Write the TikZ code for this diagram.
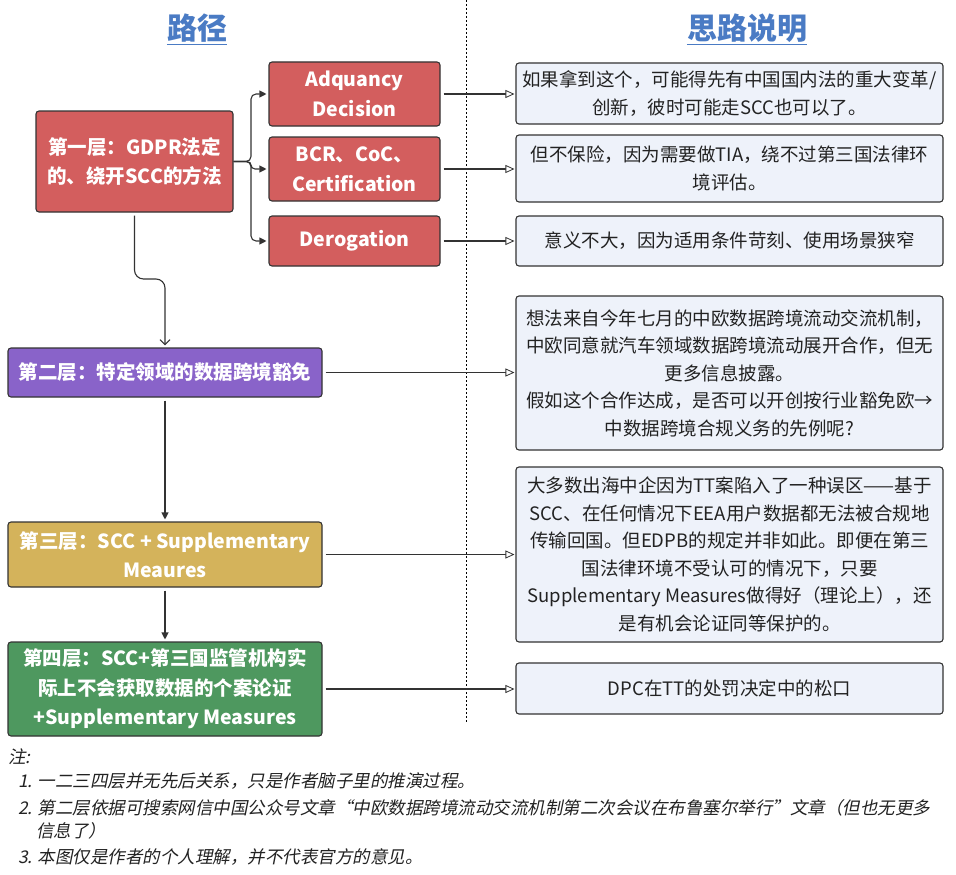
\documentclass[tikz,border=0pt]{standalone}
\usepackage{fontspec}
\setmainfont{Noto Sans CJK SC}
\newfontfamily\noteit{Noto Sans CJK SC}[FakeSlant=0.2]
\usetikzlibrary{arrows.meta}
\definecolor{cred}{HTML}{D35E5E}
\definecolor{cpurple}{HTML}{8963C9}
\definecolor{cyellow}{HTML}{D4B35B}
\definecolor{cgreen}{HTML}{4E985F}
\definecolor{cnote}{HTML}{EEF2FA}
\definecolor{ctitle}{HTML}{4A7BC4}
\definecolor{cline}{HTML}{333333}
\definecolor{ctext}{HTML}{222222}
\begin{document}
\begin{tikzpicture}[x=1pt,y=-1pt,
  lbox/.style={draw=cline, line width=1.1pt, rounded corners=3pt, text=white,
    font=\bfseries\fontsize{19.5}{29.5}\selectfont, align=center, inner sep=0pt},
  rbox/.style={draw=cline, fill=cnote, line width=1.1pt, rounded corners=3pt, text=ctext,
    font=\fontsize{18.5}{27.5}\selectfont, align=center, inner sep=0pt, minimum width=427pt},
  titlestyle/.style={font=\bfseries\fontsize{30}{30}\selectfont, text=ctitle, inner sep=0pt},
  conn/.style={draw=cline, line width=1.1pt},
  fillarr/.style={conn, -{Triangle[length=7pt,width=7pt]}},
  openarr/.style={conn, -{Triangle[open,fill=white,length=9pt,width=8pt,line width=0.8pt]}, shorten <=3pt, shorten >=1pt},
  barbarr/.style={conn, -{Straight Barb[length=5pt,width=10pt]}},
  notestyle/.style={font=\noteit\fontsize{17.5}{20}\selectfont, text=ctext, anchor=west, inner sep=0pt}
]
\useasboundingbox (0,0) rectangle (956,875);
\fill[white] (0,0) rectangle (956,875);

% titles
\node[titlestyle] (t1) at (197,28) {路径};
\node[titlestyle] (t2) at (747,28) {思路说明};
\draw[ctitle, line width=1.5pt] ([yshift=-2pt]t1.south west) -- ([yshift=-2pt]t1.south east);
\draw[ctitle, line width=1.5pt] ([yshift=-2pt]t2.south west) -- ([yshift=-2pt]t2.south east);

% separator
\coordinate (s1) at (466,0);
\coordinate (s2) at (466,722);
\draw[black, line width=0.9pt, dash pattern=on 2pt off 2pt] (s1) -- (s2);

% left boxes
\node[lbox, fill=cred, minimum width=197pt, minimum height=101pt] (L1) at (134.5,161.5) {第一层：GDPR法定\\的、绕开SCC的方法};
\node[lbox, fill=cred, minimum width=171pt, minimum height=64pt] (A) at (354.5,94) {Adquancy\\Decision};
\node[lbox, fill=cred, minimum width=171pt, minimum height=64pt] (B) at (354.5,169) {BCR、CoC、\\Certification};
\node[lbox, fill=cred, minimum width=171pt, minimum height=50pt] (D) at (354.5,241) {Derogation};
\node[lbox, fill=cpurple, minimum width=314pt, minimum height=49pt] (L2) at (165,372.5) {第二层：特定领域的数据跨境豁免};
\node[lbox, fill=cyellow, minimum width=314pt, minimum height=65pt] (L3) at (165,554.5) {第三层：SCC + Supplementary\\Meaures};
\node[lbox, fill=cgreen, minimum width=314pt, minimum height=94pt] (L4) at (165,689) {第四层：SCC+第三国监管机构实\\际上不会获取数据的个案论证\\+Supplementary Measures};

% right boxes
\node[rbox, minimum height=61pt] (R1) at (729.5,93.5) {如果拿到这个，可能得先有中国国内法的重大变革/\\创新，彼时可能走SCC也可以了。};
\node[rbox, minimum height=67pt] (R2) at (729.5,168.5) {但不保险，因为需要做TIA，绕不过第三国法律环\\境评估。};
\node[rbox, minimum height=50pt] (R3) at (729.5,241) {意义不大，因为适用条件苛刻、使用场景狭窄};
\node[rbox, minimum height=154pt] (R4) at (729.5,373) {想法来自今年七月的中欧数据跨境流动交流机制，\\中欧同意就汽车领域数据跨境流动展开合作，但无\\更多信息披露。\\假如这个合作达成，是否可以开创按行业豁免欧→\\中数据跨境合规义务的先例呢?};
\node[rbox, minimum height=175pt] (R5) at (729.5,554.5) {大多数出海中企因为TT案陷入了一种误区——基于\\SCC、在任何情况下EEA用户数据都无法被合规地\\传输回国。但EDPB的规定并非如此。即便在第三\\国法律环境不受认可的情况下，只要\\Supplementary Measures做得好（理论上），还\\是有机会论证同等保护的。};
\node[rbox, minimum height=51pt] (R6) at (729.5,688.5) {DPC在TT的处罚决定中的松口};

% brace connectors
\coordinate (j) at (251,161.5);
\draw[fillarr, rounded corners=5pt, shorten >=2pt] (L1.east) -- (j) |- (A.west);
\draw[fillarr, rounded corners=4pt, shorten >=2pt] (L1.east) -- (j) |- (B.west);
\draw[fillarr, rounded corners=5pt, shorten >=2pt] (L1.east) -- (j) |- (D.west);

% vertical flow
\coordinate (k) at (134.5,279);
\draw[barbarr, rounded corners=9pt, shorten <=3pt, shorten >=2pt] (L1.south) -- (k) -| (L2.north);
\draw[fillarr, shorten <=3pt, shorten >=2pt] (L2.south) -- (L3.north);
\draw[fillarr, shorten <=3pt, shorten >=2pt] (L3.south) -- (L4.north);

% horizontal to notes
\draw[openarr] (A.east) -- (A.east -| R1.west);
\draw[openarr] (B.east) -- (B.east -| R2.west);
\draw[openarr] (D.east) -- (D.east -| R3.west);
\draw[openarr] (L2.east) -- (L2.east -| R4.west);
\draw[openarr] (L3.east) -- (L3.east -| R5.west);
\draw[openarr] (L4.east) -- (L4.east -| R6.west);

% footnotes
\node[notestyle] (n0) at (8,757) {注:};
\node[notestyle] (n1) at (18,781) {1.\hspace{5pt}一二三四层并无先后关系，只是作者脑子里的推演过程。};
\node[notestyle] (n2) at (18,808) {2.\hspace{5pt}第二层依据可搜索网信中国公众号文章“中欧数据跨境流动交流机制第二次会议在布鲁塞尔举行”文章（但也无更多};
\node[notestyle] (n2b) at (36,831) {信息了）};
\node[notestyle] (n3) at (18,857) {3.\hspace{5pt}本图仅是作者的个人理解，并不代表官方的意见。};
\end{tikzpicture}
\end{document}
